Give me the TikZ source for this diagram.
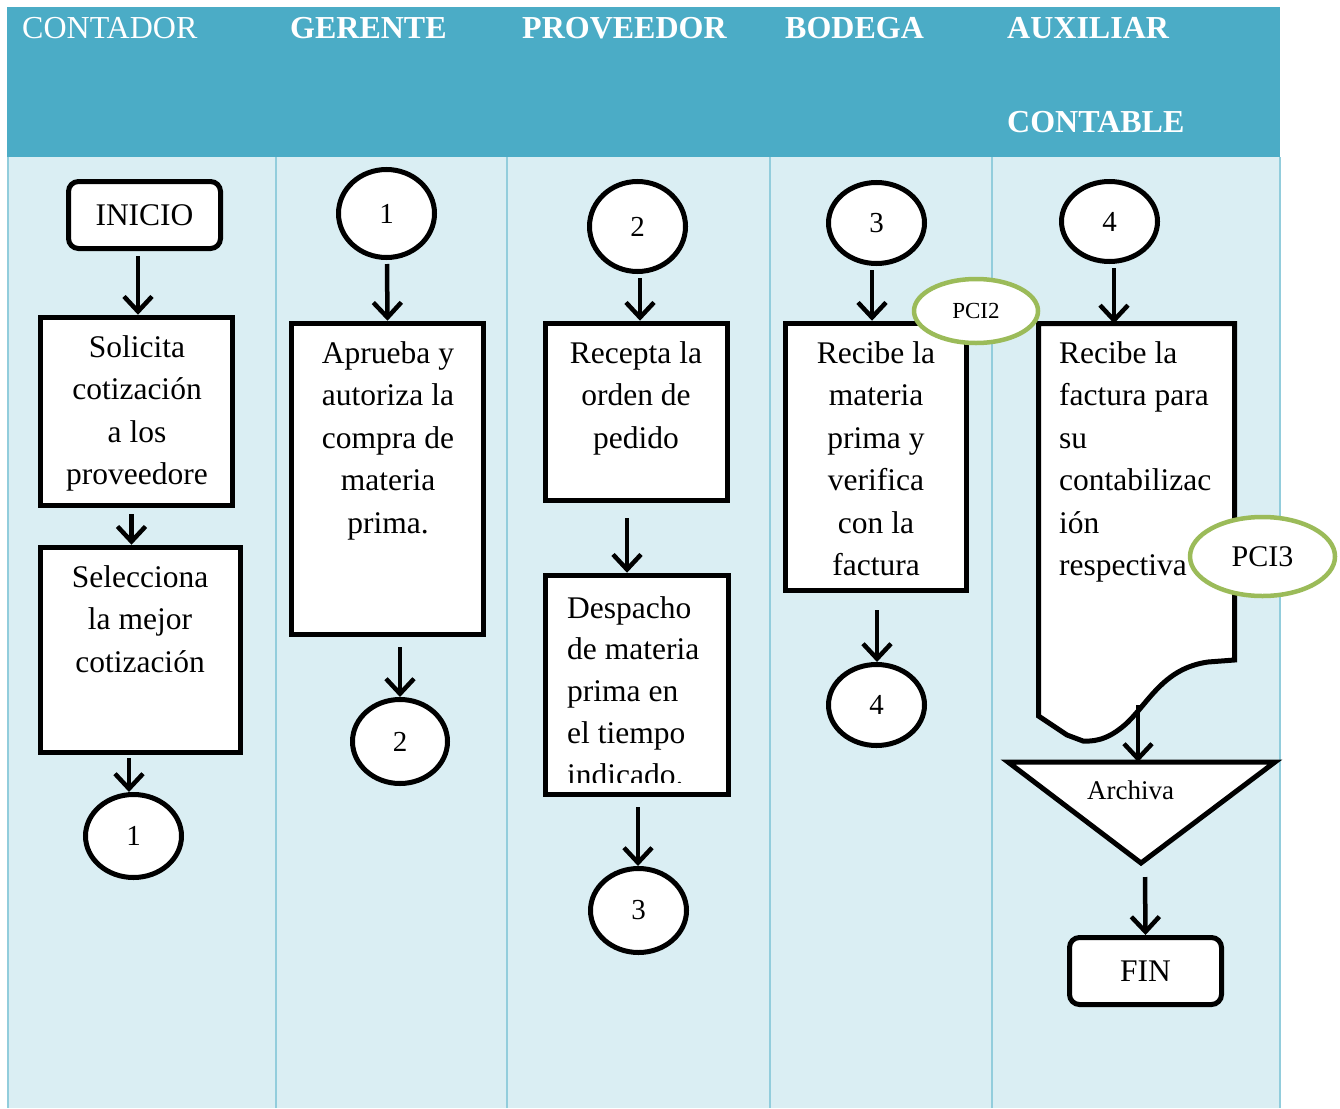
\documentclass[tikz,border=0pt]{standalone}
\usepackage{fontspec}
\setmainfont{Liberation Serif}
\usetikzlibrary{arrows.meta,shapes.geometric}
\definecolor{headblue}{HTML}{4BACC6}
\definecolor{laneblue}{HTML}{DAEEF3}
\definecolor{lanerule}{HTML}{92CDDC}
\definecolor{pcigreen}{HTML}{9BBB59}
\newcommand\bodyfont{\fontsize{31.5}{42.5}\selectfont}
\newcommand\headfont{\fontsize{32}{38}\selectfont}
\newcommand\numfont{\fontsize{29}{34}\selectfont}

\begin{document}
\begin{tikzpicture}[x=1pt,y=-1pt,
  procbox/.style={draw=black, line width=5.5pt, fill=white, inner sep=0pt, rectangle},
  termbox/.style={draw=black, line width=5pt, fill=white, rounded corners=10pt, inner sep=0pt, font=\bodyfont},
  connector/.style={draw=black, line width=5pt, fill=white, ellipse, inner sep=0pt, font=\numfont},
  control/.style={draw=pcigreen, line width=4.5pt, fill=white, ellipse, inner sep=0pt},
  flow/.style={line width=4.5pt, -{Straight Barb[length=15pt,width=28pt]}},
  % multi-line texts are placed by the baseline of their last line
  boxtext/.style={font=\bodyfont, inner sep=0pt, align=center, anchor=base},
  boxtextl/.style={font=\bodyfont, inner sep=0pt, align=left, anchor=base west},
  headtext/.style={font=\headfont, text=white, inner sep=0pt, anchor=base west},
  divider/.style={draw=lanerule, line width=1.5pt}
]
\useasboundingbox (0,0) rectangle (1340,1108);

% swimlanes
\fill[headblue] (7,7) rectangle (1280,157);
\fill[laneblue] (7,157) rectangle (1280,1108);
\foreach \x in {8,276,507,770,992,1280} \draw[divider] (\x,157) -- (\x,1108);

% lane titles
\node[headtext] (hcont) at (22,39) {CONTADOR};
\node[headtext, font=\headfont\bfseries] (hger) at (290,39) {GERENTE};
\node[headtext, font=\headfont\bfseries] (hprov) at (522,39) {PROVEEDOR};
\node[headtext, font=\headfont\bfseries] (hbod) at (785,39) {BODEGA};
\node[headtext, font=\headfont\bfseries] (haux) at (1007,39) {AUXILIAR};
\node[headtext, font=\headfont\bfseries] (hcontable) at (1007,132) {CONTABLE};

% CONTADOR
\node[termbox, minimum width=152, minimum height=67] (inicio) at (144.5,215) {INICIO};
\node[procbox, minimum width=192, minimum height=188] (solicita) at (136.5,411.5) {};
\node[boxtext] (solicitaT) at (137,484.5) {Solicita\\cotización\\a los\\proveedore};
\node[procbox, minimum width=200, minimum height=205] (selecciona) at (140.5,650) {};
\node[boxtext] (seleccionaT) at (140,672) {Selecciona\\la mejor\\cotización};
\node[connector, minimum width=96, minimum height=83] (c1a) at (133.5,836) {1};

% GERENTE
\node[connector, minimum width=96, minimum height=88] (c1b) at (386.5,213.5) {1};
\node[procbox, minimum width=192, minimum height=311] (aprueba) at (387.5,479) {};
\node[boxtext] (apruebaT) at (388,533) {Aprueba y\\autoriza la\\compra de\\materia\\prima.};
\node[connector, minimum width=95, minimum height=84] (c2a) at (400,741.5) {2};

% PROVEEDOR
\node[connector, minimum width=96, minimum height=90] (c2b) at (637.5,226.5) {2};
\node[procbox, minimum width=182, minimum height=177] (recepta) at (636.5,412) {};
\node[boxtext] (receptaT) at (636,448) {Recepta la\\orden de\\pedido};
\node[procbox, minimum width=183, minimum height=219] (despacho) at (637,685) {};
\begin{scope}
  \clip (545,575) rectangle (729,782);
  \node[boxtextl, font=\fontsize{31.5}{41.7}\selectfont] (despachoT) at (567,785) {Despacho\\de materia\\prima en\\el tiempo\\indicado.};
\end{scope}
\node[connector, minimum width=96, minimum height=84] (c3a) at (638.5,910.5) {3};

% BODEGA
\node[connector, minimum width=96, minimum height=81] (c3b) at (876.5,223) {3};
\node[procbox, minimum width=181, minimum height=267] (recibe) at (876,457) {};
\node[boxtext] (recibeT) at (876,575.5) {Recibe la\\materia\\prima y\\verifica\\con la\\factura};
\node[connector, minimum width=96, minimum height=81] (c4a) at (876.5,705) {4};

% AUXILIAR CONTABLE
\node[connector, minimum width=96, minimum height=80] (c4b) at (1109.5,221.5) {4};
\draw[line width=5pt, fill=white]
  (1038.5,323.5) -- (1234.5,323.5) -- (1234.5,660) -- (1208,662)
  .. controls (1165,668) and (1150,700) .. (1128,722)
  .. controls (1112,737) and (1098,742) .. (1083,741)
  -- (1067,735) -- (1038.5,716) -- cycle;
\coordinate (doctop) at (1114,323.5);
\coordinate (docout) at (1138,705);
\node[boxtextl] (facturaT) at (1059,575.5) {Recibe la\\factura para\\su\\contabilizac\\ión\\respectiva};
\draw[line width=5pt, fill=white]
  (1008,762) -- (1275,762) -- (1141,863) coordinate (triapex) -- cycle;
\coordinate (tritop) at (1138,762);
\node[font=\fontsize{27}{32}\selectfont, anchor=base west, inner sep=0pt] (archiva) at (1087,799) {Archiva};
\node[termbox, minimum width=152, minimum height=67] (fin) at (1145.5,971) {FIN};

% internal control points
\node[control, minimum width=124, minimum height=64, font=\fontsize{23}{28}\selectfont] (pci2) at (976,311) {PCI2};
\node[control, minimum width=145, minimum height=79, font=\fontsize{30}{36}\selectfont] (pci3) at (1262.5,556.5) {PCI3};

% flow
\draw[flow] ([xshift=-6.5pt,yshift=-5pt]inicio.south) -- ([xshift=1.5pt]solicita.north);
\draw[flow] ([xshift=-5pt,yshift=-6pt]solicita.south) -- ([xshift=-9pt]selecciona.north);
\draw[flow] ([xshift=-11.5pt,yshift=-3pt]selecciona.south) -- ([xshift=-4.5pt]c1a.north);
\draw[flow] ([xshift=0.5pt,yshift=-4pt]c1b.south) -- (aprueba.north);
\draw[flow] ([xshift=12.5pt,yshift=-10pt]aprueba.south) -- (c2a.north);
\draw[flow] ([xshift=2.5pt,yshift=-4pt]c2b.south) -- ([xshift=3.5pt]recepta.north);
\draw[flow] ([xshift=-9.5pt,yshift=-15pt]recepta.south) -- ([xshift=-10pt]despacho.north);
\draw[flow] ([xshift=1pt,yshift=-10pt]despacho.south) -- ([xshift=-0.5pt]c3a.north);
\draw[flow] ([xshift=-4.5pt,yshift=-4pt]c3b.south) -- ([xshift=-4pt]recibe.north);
\draw[flow] ([xshift=1pt,yshift=-17pt]recibe.south) -- ([xshift=0.5pt]c4a.north);
\draw[flow] ([xshift=4.5pt,yshift=-4pt]c4b.south) -- (doctop);
\draw[flow] (docout) -- (tritop);
\draw[flow] ([xshift=4pt,yshift=-14pt]triapex) -- (fin.north);
\end{tikzpicture}
\end{document}
